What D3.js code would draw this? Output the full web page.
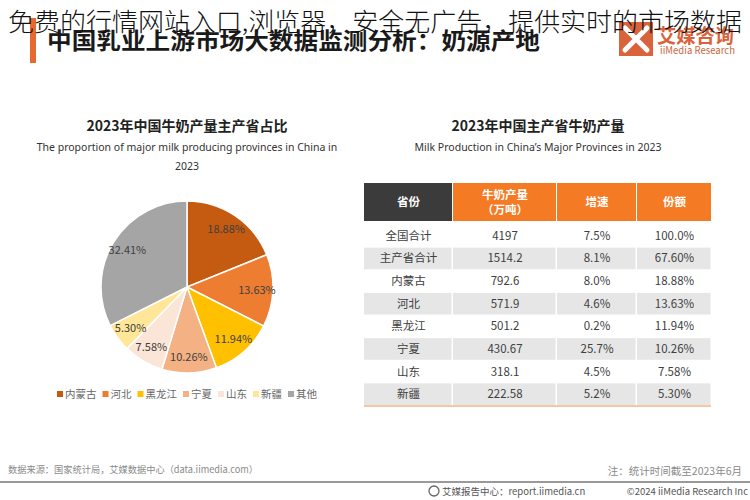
<!DOCTYPE html>
<html>
<head>
<meta charset="utf-8">
<script src="https://cdn.jsdelivr.net/npm/d3@7"></script>
<style>
body { margin: 0; background: #fff; }
svg { display: block; }
</style>
</head>
<body>
<div id="chart"></div>
<script>
// pie data
var provinces = ["内蒙古", "河北", "黑龙江", "宁夏", "山东", "新疆", "其他"];
var shares = [18.88, 13.63, 11.94, 10.26, 7.58, 5.30, 32.41];
var sliceColors = ["#C55A11", "#ED7D31", "#FFC000", "#F4B183", "#FBE5D6", "#FFE699", "#A5A5A5"];

// table data
var headers = [["省份"], ["牛奶产量", "（万吨）"], ["增速"], ["份额"]];
var rowNames = ["全国合计", "主产省合计", "内蒙古", "河北", "黑龙江", "宁夏", "山东", "新疆"];
var output = ["4197", "1514.2", "792.6", "571.9", "501.2", "430.67", "318.1", "222.58"];
var growth = ["7.5%", "8.1%", "8.0%", "4.6%", "0.2%", "25.7%", "4.5%", "5.2%"];
var shareText = ["100.0%", "67.60%", "18.88%", "13.63%", "11.94%", "10.26%", "7.58%", "5.30%"];

var width = 750, height = 500;
var font = "'Noto Sans CJK SC','Noto Sans',sans-serif";
var latinFont = "'Noto Sans','Noto Sans CJK SC',sans-serif";

var svg = d3.select("#chart").append("svg")
  .attr("width", width)
  .attr("height", height)
  .style("font-family", font);

// header: orange bar, title, logo
svg.append("rect").attr("x", 30).attr("y", 18).attr("width", 6).attr("height", 45).attr("fill", "#E8692F");

svg.append("text")
  .attr("x", 47).attr("y", 49)
  .attr("font-size", 23).attr("font-weight", "bold").attr("fill", "#1a1a1a")
  .attr("textLength", 493).attr("lengthAdjust", "spacingAndGlyphs")
  .text("中国乳业上游市场大数据监测分析：奶源产地");

var logo = svg.append("g");
logo.append("rect").attr("x", 619).attr("y", 22).attr("width", 34).attr("height", 34).attr("fill", "#D9643C");
logo.append("path").attr("d", "M625,28 L647,50 M647,28 L625,50")
  .attr("stroke", "#fff").attr("stroke-width", 5).attr("stroke-linecap", "round");
logo.append("text").attr("x", 657).attr("y", 43)
  .attr("font-size", 19).attr("font-weight", "bold").attr("fill", "#D9643C")
  .attr("textLength", 77).attr("lengthAdjust", "spacingAndGlyphs")
  .text("艾媒咨询");
logo.append("text").attr("x", 660).attr("y", 54)
  .attr("font-size", 10).attr("fill", "#C8683F")
  .attr("textLength", 75).attr("lengthAdjust", "spacingAndGlyphs")
  .text("iiMedia Research");

// section titles
function titles(cx, zh, en) {
  svg.append("text").attr("x", cx).attr("y", 131).attr("text-anchor", "middle")
    .attr("font-size", 14).attr("font-weight", "bold").attr("fill", "#222").text(zh);
  en.forEach(function(line, i) {
    svg.append("text").attr("x", cx).attr("y", 151 + i * 19).attr("text-anchor", "middle")
      .style("font-family", latinFont)
      .attr("font-size", 10.5).attr("fill", "#333").text(line);
  });
}
titles(187, "2023年中国牛奶产量主产省占比",
  ["The proportion of major milk producing provinces in China in", "2023"]);
titles(538, "2023年中国主产省牛奶产量",
  ["Milk Production in China\u2019s Major Provinces in 2023"]);

// pie
var cx = 187, cy = 287, radius = 86;
var pie = d3.pie().sort(null).value(function(d) { return d; });
var arc = d3.arc().innerRadius(0).outerRadius(radius);
var labelArc = d3.arc().innerRadius(70).outerRadius(70);

var pieG = svg.append("g").attr("transform", "translate(" + cx + "," + cy + ")");
var slices = pie(shares);

pieG.selectAll("path")
  .data(slices)
  .enter()
  .append("path")
  .attr("d", arc)
  .attr("fill", function(d, i) { return sliceColors[i]; })
  .attr("stroke", "#fff")
  .attr("stroke-width", 1.5);

pieG.selectAll("text")
  .data(slices)
  .enter()
  .append("text")
  .attr("transform", function(d) { return "translate(" + labelArc.centroid(d) + ")"; })
  .attr("dy", "0.35em")
  .attr("text-anchor", "middle")
  .attr("font-size", 11)
  .attr("fill", "#404040")
  .text(function(d) { return d.data.toFixed(2) + "%"; });

// legend
var legend = svg.append("g");
var lx = 57;
provinces.forEach(function(p, i) {
  legend.append("rect").attr("x", lx).attr("y", 391).attr("width", 6).attr("height", 6).attr("fill", sliceColors[i]);
  var t = legend.append("text").attr("x", lx + 8).attr("y", 397.5)
    .attr("font-size", 10.5).attr("fill", "#666").text(p);
  lx += 8 + t.node().getComputedTextLength() + 6;
});

// table
var colEdges = [364, 453, 557, 637, 712];
var colCenter = function(i) { return (colEdges[i] + colEdges[i + 1]) / 2; };
var headTop = 183, headBottom = 221;

var headG = svg.append("g");
headers.forEach(function(h, i) {
  headG.append("rect")
    .attr("x", colEdges[i]).attr("y", headTop)
    .attr("width", colEdges[i + 1] - colEdges[i] - 1).attr("height", headBottom - headTop)
    .attr("fill", i === 0 ? "#3B3B3B" : "#F47A24");
  h.forEach(function(line, j) {
    headG.append("text")
      .attr("x", colCenter(i))
      .attr("y", (headTop + headBottom) / 2 + (j - (h.length - 1) / 2) * 15)
      .attr("dy", "0.35em")
      .attr("text-anchor", "middle")
      .attr("font-size", 11.5).attr("font-weight", "bold").attr("fill", "#fff")
      .text(line);
  });
});

var y = d3.scaleBand().domain(rowNames).range([224.5, 405.5]);
var columns = [rowNames, output, growth, shareText];

var bodyG = svg.append("g");
rowNames.forEach(function(r, ri) {
  if (ri % 2 === 1) {
    for (var c = 0; c < 4; c++) {
      bodyG.append("rect")
        .attr("x", colEdges[c]).attr("y", y(r) + 0.5)
        .attr("width", colEdges[c + 1] - colEdges[c] - 1.5).attr("height", y.bandwidth() - 1)
        .attr("fill", "#E6E6E6");
    }
  }
  columns.forEach(function(col, c) {
    bodyG.append("text")
      .attr("x", colCenter(c))
      .attr("y", y(r) + y.bandwidth() / 2)
      .attr("dy", "0.35em")
      .attr("text-anchor", "middle")
      .attr("font-size", 11.5).attr("fill", "#404040")
      .text(col[ri]);
  });
});
bodyG.append("line").attr("x1", 364).attr("x2", 711).attr("y1", 406).attr("y2", 406)
  .attr("stroke", "#F2B48C").attr("stroke-width", 1.5);

// footer
svg.append("text").attr("x", 8).attr("y", 473)
  .attr("font-size", 9.5).attr("fill", "#8a8a8a")
  .attr("textLength", 250).attr("lengthAdjust", "spacingAndGlyphs")
  .text("数据来源：国家统计局，艾媒数据中心（data.iimedia.com）");
svg.append("text").attr("x", 742).attr("y", 475).attr("text-anchor", "end")
  .attr("font-size", 10.5).attr("fill", "#8a8a8a")
  .text("注：统计时间截至2023年6月");
svg.append("line").attr("x1", 0).attr("x2", 750).attr("y1", 482).attr("y2", 482)
  .attr("stroke", "#9a9a9a").attr("stroke-width", 2);
svg.append("circle").attr("cx", 434).attr("cy", 491).attr("r", 5)
  .attr("fill", "none").attr("stroke", "#666").attr("stroke-width", 1.3);
svg.append("text").attr("x", 442).attr("y", 495)
  .attr("font-size", 9.5).attr("fill", "#555")
  .text("艾媒报告中心：report.iimedia.cn");
svg.append("text").attr("x", 748).attr("y", 495).attr("text-anchor", "end")
  .attr("font-size", 9.5).attr("fill", "#555")
  .text("©2024  iiMedia Research  Inc");

// overlay line across the top
svg.append("text")
  .attr("x", 8).attr("y", 31)
  .attr("font-size", 25).attr("font-weight", 300).attr("fill", "#111")
  .attr("textLength", 734).attr("lengthAdjust", "spacingAndGlyphs")
  .text("免费的行情网站入口,浏览器，安全无广告，提供实时的市场数据");
</script>
</body>
</html>
